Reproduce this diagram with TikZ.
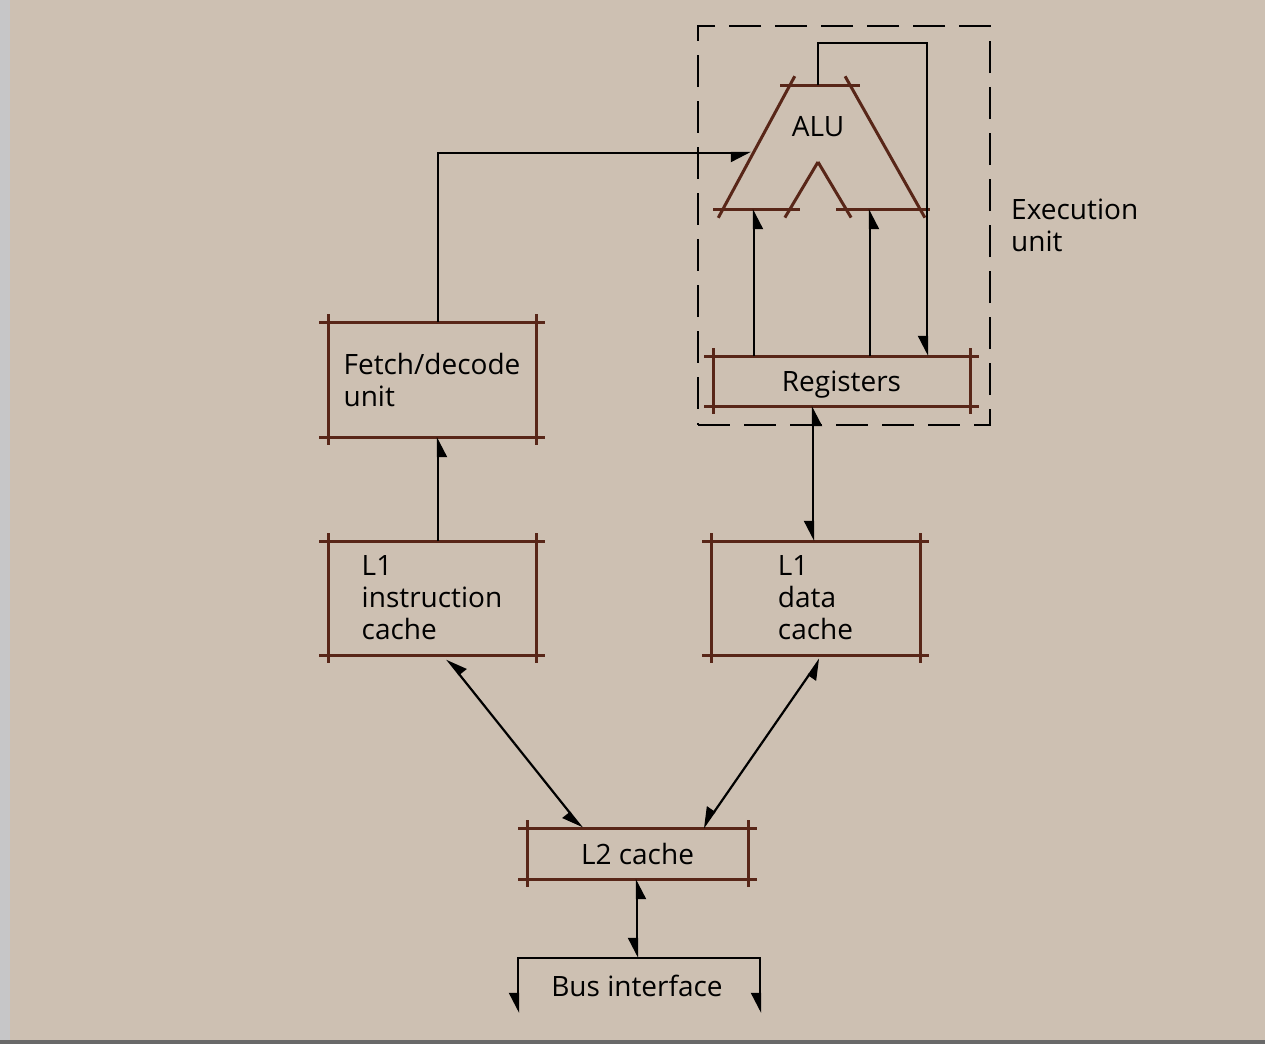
\documentclass[tikz,border=0pt]{standalone}
\usepackage{fontspec}
\setmainfont{Open Sans}
\usetikzlibrary{arrows.meta,calc}
\definecolor{bgc}{RGB}{205,192,178}
\definecolor{boxc}{RGB}{88,38,24}
\definecolor{stripc}{RGB}{198,198,200}
\definecolor{edgec}{RGB}{105,105,105}
\newcommand\skbox[1]{%
  \draw[draw=boxc, line width=3pt]
    ([xshift=-9pt]#1.north west) -- ([xshift=9pt]#1.north east)
    ([xshift=-9pt]#1.south west) -- ([xshift=9pt]#1.south east)
    ([yshift=8pt]#1.north west) -- ([yshift=-8pt]#1.south west)
    ([yshift=8pt]#1.north east) -- ([yshift=-8pt]#1.south east);}
\begin{document}
\begin{tikzpicture}[x=1pt,y=-1pt,
  lbl/.style={font=\fontsize{28}{32}\selectfont, inner sep=0pt, text=black},
  unitbox/.style={lbl, rectangle, align=left, outer sep=0pt},
  conn/.style={draw=black, line width=2.2pt},
  onehead/.style={-{Triangle[harpoon,swap,length=18pt,width=18pt]}},
  aluline/.style={draw=boxc, line width=3pt, shorten <=-10pt, shorten >=-10pt},
]
% background
\fill[bgc] (0,0) rectangle (1265,1044);
\fill[stripc] (0,0) rectangle (10,1044);
\fill[edgec] (0,1040) rectangle (1265,1044);
\useasboundingbox (0,0) rectangle (1265,1044);

% units
\node[unitbox, minimum width=208pt, minimum height=115pt] (fetch) at (432,379.5) {Fetch/decode\\unit};
\node[unitbox, minimum width=208pt, minimum height=114pt] (l1i) at (432,598) {L1\\instruction\\cache};
\node[unitbox, minimum width=209pt, minimum height=114pt] (l1d) at (815.5,598) {L1\\data\\cache};
\node[unitbox, minimum width=257pt, minimum height=50pt, text depth=0pt] (regs) at (841.5,381) {Registers};
\node[unitbox, minimum width=221pt, minimum height=51pt] (l2) at (637.5,853.5) {L2 cache};
\node[lbl] (bus) at (637,986) {Bus interface};
\node[lbl, align=left, anchor=west] (execlbl) at (1011,225) {Execution\\unit};
\node[draw=black, dash pattern=on 32pt off 14pt, line width=2.2pt, minimum width=292pt, minimum height=399pt, inner sep=0pt] (exec) at (844,225.5) {};
\node[lbl] (alu) at (818,127) {ALU};

\skbox{fetch}
\skbox{l1i}
\skbox{l1d}
\skbox{regs}
\skbox{l2}

% ALU shape
\coordinate (aTL) at (790,85);
\coordinate (aTR) at (850,85);
\coordinate (aBL) at (723,209);
\coordinate (aBR) at (920,209);
\coordinate (nL) at (790,209);
\coordinate (nA) at (818,162);
\coordinate (nR) at (846,209);
\draw[aluline] (aTL) -- (aTR);
\draw[aluline] (aTL) -- (aBL);
\draw[aluline] (aTR) -- (aBR);
\draw[aluline] (aBL) -- (nL);
\draw[aluline] (nR) -- (aBR);
\draw[aluline, shorten <=-10pt, shorten >=0pt] (nL) -- (nA);
\draw[aluline, shorten <=0pt, shorten >=-10pt] (nA) -- (nR);

% connectors
\coordinate (aluIn) at (751,153);
\draw[conn, onehead] ([xshift=6pt]fetch.north) |- (aluIn);
\draw[conn, onehead] ([xshift=6pt]l1i.north) -- ([xshift=6pt]fetch.south);

\coordinate (inL) at (754,209);
\coordinate (inR) at (870,209);
\draw[conn, onehead] (regs.north -| inL) -- (inL);
\draw[conn, onehead] (regs.north -| inR) -- (inR);

\coordinate (aTop) at (818,85);
\coordinate (fb) at (927,43);
\draw[conn, onehead] (aTop) |- (fb) -- (regs.north -| fb);

\coordinate (rd) at (813,473);
\draw[conn, onehead] (rd) -- (regs.south -| rd);
\draw[conn, onehead] (rd) -- (l1d.north -| rd);

\coordinate (p1) at ([xshift=15pt,yshift=-4pt]l1i.south);
\coordinate (p2) at ([xshift=-55.5pt]l2.north);
\draw[conn, onehead] ($(p1)!0.5!(p2)$) -- (p1);
\draw[conn, onehead] ($(p1)!0.5!(p2)$) -- (p2);

\coordinate (q1) at ([xshift=4.5pt,yshift=-4pt]l1d.south);
\coordinate (q2) at ([xshift=65.5pt]l2.north);
\draw[conn, onehead] ($(q1)!0.5!(q2)$) -- (q1);
\draw[conn, onehead] ($(q1)!0.5!(q2)$) -- (q2);

\coordinate (busTL) at (518,958);
\coordinate (busTR) at (760,958);
\coordinate (busEL) at (518,1013);
\coordinate (busER) at (760,1013);
\draw[conn, onehead] (busTR) -- (busTL) -- (busEL);
\draw[conn, onehead] (busTL) -- (busTR) -- (busER);

\coordinate (lb) at (637,918);
\draw[conn, onehead] (lb) -- (l2.south -| lb);
\draw[conn, onehead] (lb) -- (busTL -| lb);
\end{tikzpicture}
\end{document}
